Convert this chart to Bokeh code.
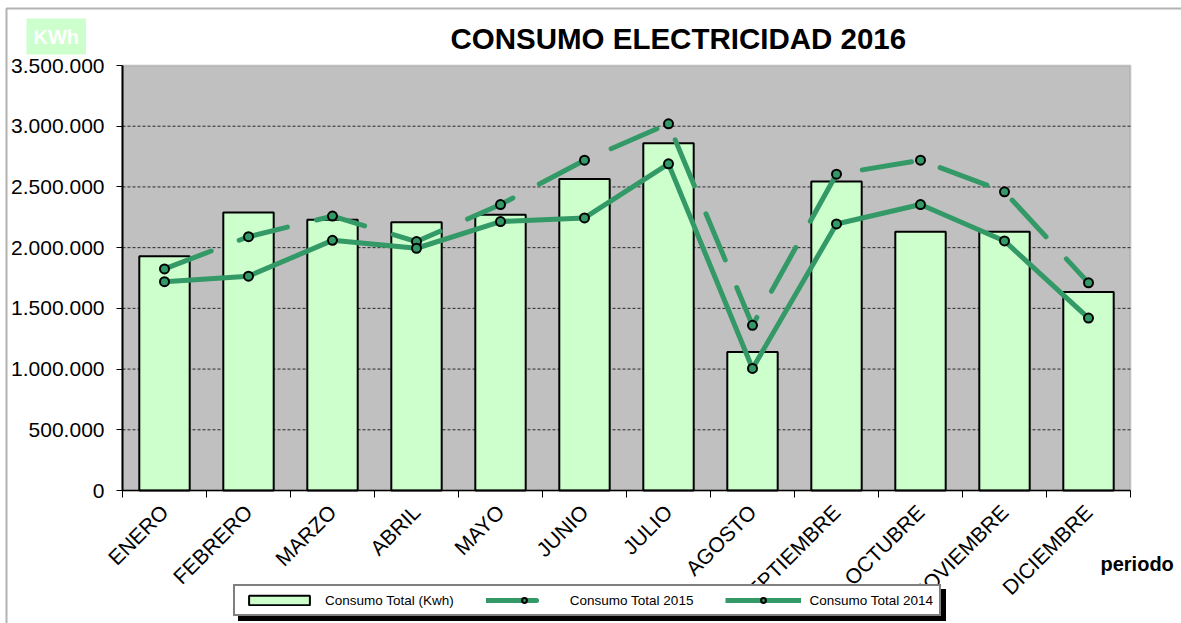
from bokeh.plotting import figure
from bokeh.models import (Range1d, FixedTicker, Label, Legend, LegendItem,
                          ColumnDataSource, BoxAnnotation)
from bokeh.embed import file_html
from bokeh.resources import INLINE

months = ["ENERO", "FEBRERO", "MARZO", "ABRIL", "MAYO", "JUNIO", "JULIO",
          "AGOSTO", "SEPTIEMBRE", "OCTUBRE", "NOVIEMBRE", "DICIEMBRE"]
total_2016 = [1930000, 2290000, 2230000, 2210000, 2270000, 2565000, 2860000,
              1140000, 2545000, 2130000, 2130000, 1635000]
total_2015 = [1825000, 2090000, 2260000, 2050000, 2355000, 2720000, 3020000,
              1360000, 2605000, 2720000, 2460000, 1710000]
total_2014 = [1720000, 1765000, 2060000, 1995000, 2215000, 2245000, 2690000,
              1005000, 2195000, 2355000, 2055000, 1420000]
y_ticks = [0, 500000, 1000000, 1500000, 2000000, 2500000, 3000000, 3500000]
y_tick_labels = ["0", "500.000", "1.000.000", "1.500.000", "2.000.000",
                 "2.500.000", "3.000.000", "3.500.000"]

FONT = "Liberation Sans"
GREEN = "#339966"

# canvas / plot-area geometry (pixels)
W, H = 1181, 623
PA_L, PA_R, PA_T, PA_B = 122, 1130, 65, 490
N = len(months)
YMAX = y_ticks[-1]
ux = (PA_R - PA_L) / N          # px per category
uy = (PA_B - PA_T) / YMAX       # px per kWh

def dx(px):
    return (px - PA_L) / ux

def dy(py):
    return (PA_B - py) / uy

xpos = [i + 0.5 for i in range(N)]
src = ColumnDataSource(dict(x=xpos, month=months, t16=total_2016,
                            t15=total_2015, t14=total_2014))

p = figure(width=W, height=H, x_range=Range1d(dx(0), dx(W)), y_range=Range1d(dy(H), dy(0)),
           output_backend="svg", toolbar_location=None, min_border=0)
p.min_border_left = p.min_border_right = p.min_border_top = p.min_border_bottom = 0
p.title.visible = False
p.background_fill_color = "white"
p.border_fill_color = "white"
p.outline_line_color = None

# outer chart border (top/left visible)
p.add_layout(BoxAnnotation(left=dx(6), top=dy(8), right=dx(W + 50), bottom=dy(H + 50),
                           fill_alpha=0, line_color="black", line_width=2, level="underlay"))
# plot area
p.add_layout(BoxAnnotation(left=0, right=N, bottom=0, top=YMAX, fill_color="#C0C0C0",
                           fill_alpha=1, line_color="#808080", line_width=2, level="underlay"))

# horizontal dashed gridlines
grid_y = y_ticks[1:-1]
p.segment(x0=[0] * len(grid_y), x1=[N] * len(grid_y), y0=grid_y, y1=grid_y,
          line_color="black", line_dash="3 2", line_width=1, line_alpha=0.8)

bars = p.vbar(x="x", top="t16", width=0.6, source=src, fill_color="#CCFFCC",
              line_color="black", line_width=2)
l15 = p.line("x", "t15", source=src, line_color=GREEN, line_width=5,
             line_dash="50 30", line_cap="round")
l14 = p.line("x", "t14", source=src, line_color=GREEN, line_width=5, line_join="round")
s15 = p.scatter("x", "t15", source=src, size=9, fill_color=GREEN, line_color="black", line_width=2)
s14 = p.scatter("x", "t14", source=src, size=9, fill_color=GREEN, line_color="black", line_width=2)

# axes, fixed at the plot area's edges
p.xgrid.visible = False
p.ygrid.visible = False

p.xaxis.fixed_location = 0
p.xaxis.bounds = (0, N)
p.xaxis.ticker = FixedTicker(ticks=xpos, minor_ticks=list(range(N + 1)))
p.xaxis.major_label_overrides = {x: m for x, m in zip(xpos, months)}
p.xaxis.major_label_orientation = 0.785398
p.xaxis.major_tick_out = 0
p.xaxis.major_tick_in = 0
p.xaxis.minor_tick_out = 7
p.xaxis.minor_tick_in = 0
p.xaxis.minor_tick_line_color = "black"
p.xaxis.major_label_text_font = FONT
p.xaxis.major_label_text_font_size = "21px"
p.xaxis.major_label_text_color = "black"
p.xaxis.major_label_standoff = 11
p.xaxis.axis_line_color = "black"
p.xaxis.axis_line_width = 1.5

p.yaxis.fixed_location = 0
p.yaxis.bounds = (0, YMAX)
p.yaxis.ticker = FixedTicker(ticks=y_ticks, minor_ticks=[])
p.yaxis.major_label_overrides = {v: s for v, s in zip(y_ticks, y_tick_labels)}
p.yaxis.major_tick_out = 6
p.yaxis.major_tick_in = 0
p.yaxis.major_tick_line_color = "black"
p.yaxis.major_label_text_font = FONT
p.yaxis.major_label_text_font_size = "21px"
p.yaxis.major_label_text_color = "black"
p.yaxis.major_label_standoff = 12
p.yaxis.axis_line_color = "black"
p.yaxis.axis_line_width = 2

# legends (shadow + front)
def make_legend(loc, bg):
    items = [LegendItem(label="Consumo Total (Kwh)", renderers=[bars]),
             LegendItem(label="Consumo Total 2015", renderers=[l15, s15]),
             LegendItem(label="Consumo Total 2014", renderers=[l14, s14])]
    return Legend(items=items, location=loc, orientation="horizontal",
                  glyph_width=76, glyph_height=12, label_height=16,
                  label_text_font=FONT, label_text_font_size="13.5px", label_text_color="black",
                  padding=6, spacing=32, label_standoff=8, margin=0,
                  border_line_color="black", border_line_width=2,
                  background_fill_color=bg, background_fill_alpha=1.0)

p.add_layout(make_legend((238, H - 621), "black"))
p.add_layout(make_legend((233, H - 616), "white"))

# texts
p.add_layout(Label(x=450, y=H - 38, x_units="screen", y_units="screen",
                   text="CONSUMO ELECTRICIDAD 2016", text_font=FONT, text_font_size="29.5px",
                   text_font_style="bold", text_color="black", text_baseline="middle"))
p.add_layout(Label(x=26, y=H - 36, x_units="screen", y_units="screen", text="KWh",
                   text_font=FONT, text_font_size="20px", text_font_style="bold",
                   text_color="white", text_baseline="middle",
                   background_fill_color="#CCFFCC", padding=7))
p.add_layout(Label(x=1100, y=H - 563, x_units="screen", y_units="screen", text="periodo",
                   text_font=FONT, text_font_size="20px", text_font_style="bold",
                   text_color="black", text_baseline="middle"))

open("out.html", "w").write(file_html(p, INLINE))
